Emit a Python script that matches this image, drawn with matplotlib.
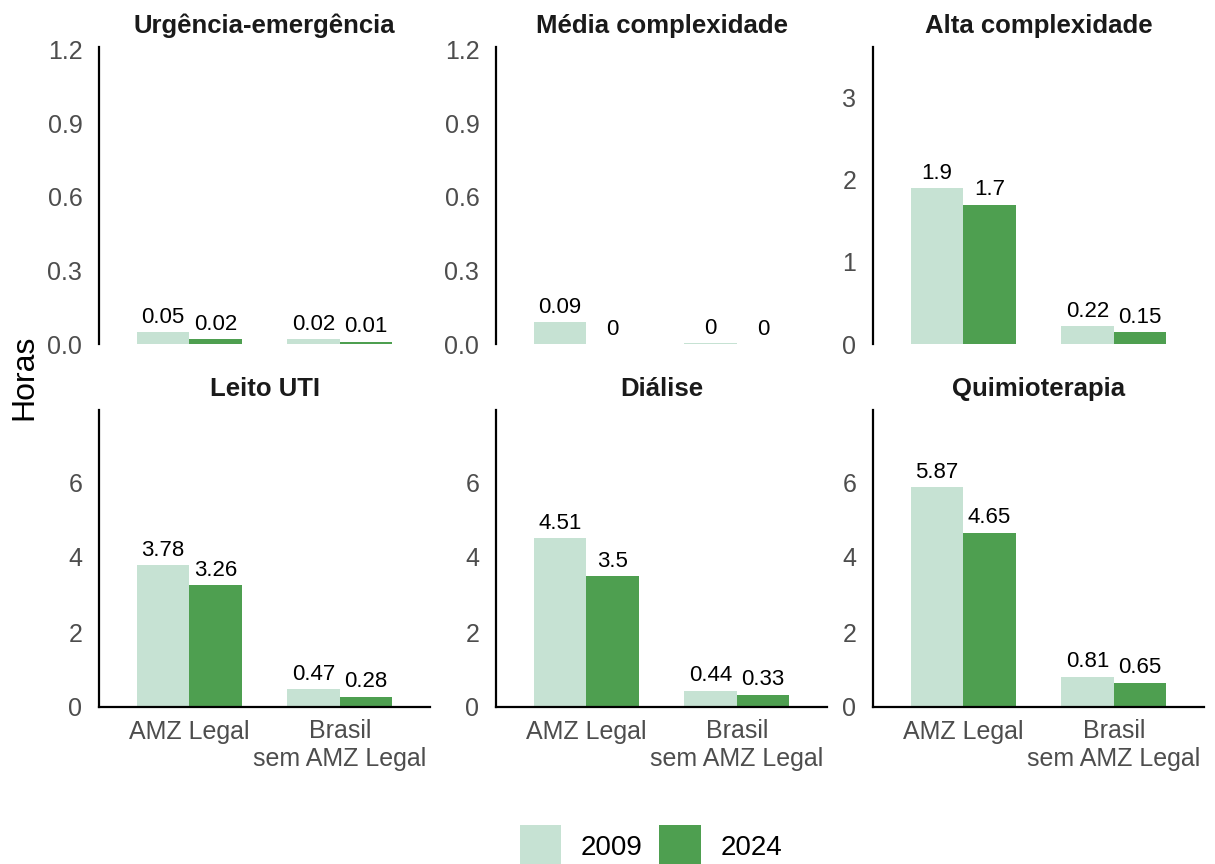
import matplotlib
matplotlib.use("Agg")
import matplotlib.pyplot as plt
from matplotlib.patches import Patch

plt.rcParams['font.family'] = ['Liberation Sans', 'DejaVu Sans']

panels = ["Urgência-emergência", "Média complexidade", "Alta complexidade",
          "Leito UTI", "Diálise", "Quimioterapia"]
categories = ["AMZ Legal", "Brasil\nsem AMZ Legal"]
years = ["2009", "2024"]
vals_2009 = [[0.05, 0.02], [0.09, 0.003], [1.9, 0.22],
             [3.78, 0.47], [4.51, 0.44], [5.87, 0.81]]
vals_2024 = [[0.02, 0.01], [0.0, 0.0], [1.7, 0.15],
             [3.26, 0.28], [3.5, 0.33], [4.65, 0.65]]
ylims = [1.21, 1.21, 3.62, 7.92, 7.92, 7.92]
yticks = [[0, 0.3, 0.6, 0.9, 1.2], [0, 0.3, 0.6, 0.9, 1.2], [0, 1, 2, 3],
          [0, 2, 4, 6], [0, 2, 4, 6], [0, 2, 4, 6]]
ytick_labels = [["0.0", "0.3", "0.6", "0.9", "1.2"], ["0.0", "0.3", "0.6", "0.9", "1.2"],
                ["0", "1", "2", "3"], ["0", "2", "4", "6"], ["0", "2", "4", "6"], ["0", "2", "4", "6"]]

c09 = "#C6E2D3"
c24 = "#4E9F50"
W, H = 1215, 864
fig = plt.figure(figsize=(W / 100, H / 100), dpi=100)

col_x = [99, 496, 873]
col_w = 331
row_y = [(47, 344), (410, 707)]

def fmt(v):
    r = round(v, 2)
    return f"{r:g}"

for i, name in enumerate(panels):
    r, c = divmod(i, 3)
    x0 = col_x[c]
    ytop, ybot = row_y[r]
    ax = fig.add_axes([x0 / W, 1 - ybot / H, col_w / W, (ybot - ytop) / H])
    xs = [1, 2]
    bw = 0.35
    b1 = ax.bar([x - bw / 2 for x in xs], vals_2009[i], width=bw, color=c09)
    b2 = ax.bar([x + bw / 2 for x in xs], vals_2024[i], width=bw, color=c24)
    for bars, vals in ((b1, vals_2009[i]), (b2, vals_2024[i])):
        for b, v in zip(bars, vals):
            ax.annotate(fmt(v), (b.get_x() + b.get_width() / 2, v),
                        xytext=(0, 3), textcoords="offset points",
                        ha="center", va="bottom", fontsize=16, color="black")
    ax.set_xlim(0.4, 2.6)
    ax.set_ylim(0, ylims[i])
    ax.set_yticks(yticks[i])
    ax.set_yticklabels(ytick_labels[i])
    for s in ["top", "right"]:
        ax.spines[s].set_visible(False)
    ax.spines["left"].set_linewidth(1.6)
    ax.spines["left"].set_color("black")
    if r == 1:
        ax.spines["bottom"].set_linewidth(1.6)
        ax.spines["bottom"].set_color("black")
        ax.set_xticks(xs)
        ax.set_xticklabels(categories, fontsize=18, color="#4D4D4D", linespacing=1.2)
        ax.tick_params(axis="x", pad=9)
    else:
        ax.spines["bottom"].set_visible(False)
        ax.set_xticks([])
    ax.tick_params(axis="both", length=0, labelsize=18, labelcolor="#4D4D4D")
    ax.tick_params(axis="y", pad=12)
    ax.set_title(name, fontsize=18.5, fontweight="bold", color="#1A1A1A", pad=10)
    ax.patch.set_visible(False)

fig.text(24 / W, 1 - 377 / H, "Horas", rotation=90, ha="center", va="center", fontsize=23)

handles = [Patch(facecolor=c09), Patch(facecolor=c24)]
fig.legend(handles, years, loc="center", bbox_to_anchor=(651 / W, 1 - 846 / H), ncol=2,
           frameon=False, fontsize=20, handlelength=1.5, handleheight=1.9,
           handletextpad=0.7, columnspacing=0.6)

fig.savefig("out.png", dpi=100)
